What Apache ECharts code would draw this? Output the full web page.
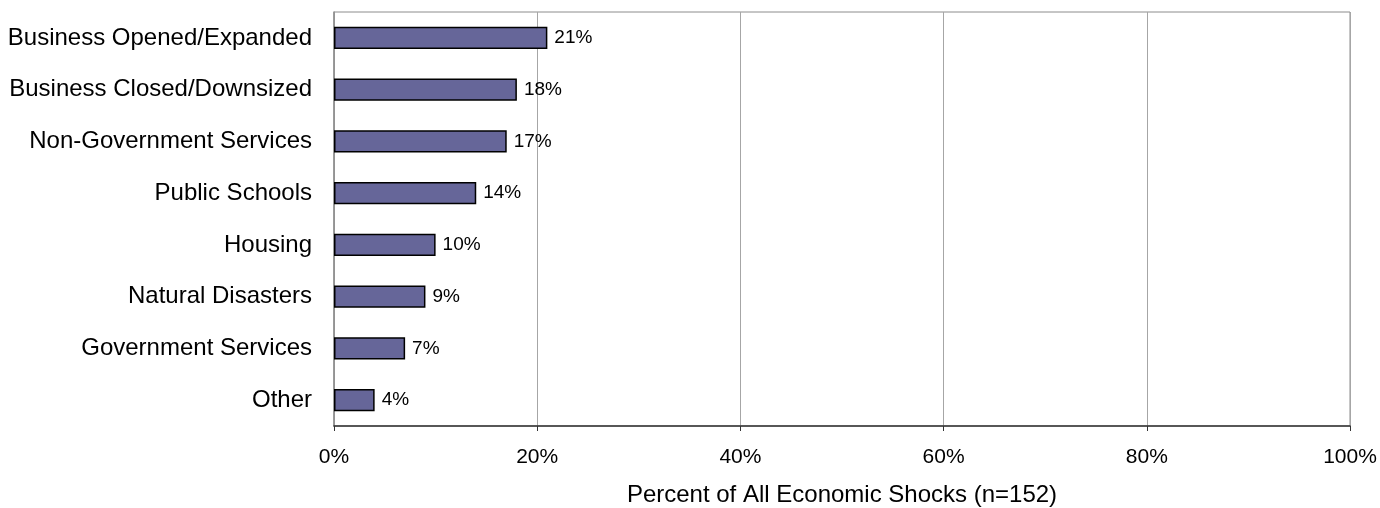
<!DOCTYPE html>
<html>
<head>
<meta charset="utf-8">
<script src="https://cdn.jsdelivr.net/npm/echarts@6/dist/echarts.min.js"></script>
<style>
  html, body { margin: 0; padding: 0; background: #ffffff; }
  #chart { width: 1380px; height: 508px; }
</style>
</head>
<body>
<div id="chart"></div>
<script>
// Categories of economic shocks, top to bottom
const categories = [
  'Business Opened/Expanded',
  'Business Closed/Downsized',
  'Non-Government Services',
  'Public Schools',
  'Housing',
  'Natural Disasters',
  'Government Services',
  'Other'
];
// Share of all economic shocks, in percent
const shares = [21, 18, 17, 14, 10, 9, 7, 4];
// Axis ticks in percent
const xTicks = [0, 20, 40, 60, 80, 100];
const xTitle = 'Percent of All Economic Shocks (n=152)';

const FONT = '"Liberation Sans", Arial, sans-serif';
const chart = echarts.init(document.getElementById('chart'), null, { renderer: 'canvas' });

chart.setOption({
  animation: false,
  backgroundColor: '#ffffff',
  grid: {
    left: 334, right: 30, top: 12, bottom: 82,
    containLabel: false,
    outerBoundsMode: 'none',
    show: true, borderColor: '#8c8c8c', borderWidth: 1
  },
  xAxis: {
    type: 'value',
    min: xTicks[0],
    max: xTicks[xTicks.length - 1],
    interval: xTicks[1] - xTicks[0],
    name: xTitle,
    nameLocation: 'middle',
    nameGap: 57,
    nameTextStyle: { fontFamily: FONT, fontSize: 24, color: '#000' },
    axisLine: { show: true, lineStyle: { color: '#333', width: 1.5 } },
    axisTick: { show: true, length: 5, lineStyle: { color: '#333', width: 1 } },
    axisLabel: {
      margin: 21, fontFamily: FONT, fontSize: 21, color: '#000',
      formatter: v => v + '%'
    },
    splitLine: { show: true, lineStyle: { color: '#a6a6a6', width: 1 } }
  },
  yAxis: {
    type: 'category',
    data: categories,
    inverse: true,
    axisLine: { show: true, lineStyle: { color: '#8c8c8c', width: 1.5 } },
    axisTick: { show: false },
    axisLabel: { margin: 22, fontFamily: FONT, fontSize: 24, color: '#000' },
    splitLine: { show: false }
  },
  series: [{
    type: 'bar',
    data: shares,
    barWidth: '43%',
    itemStyle: { color: '#666699', borderColor: '#000', borderWidth: 1.5 },
    label: {
      show: true, position: 'right', distance: 7,
      fontFamily: FONT, fontSize: 19, color: '#000',
      formatter: p => p.value + '%'
    }
  }]
});
</script>
</body>
</html>
